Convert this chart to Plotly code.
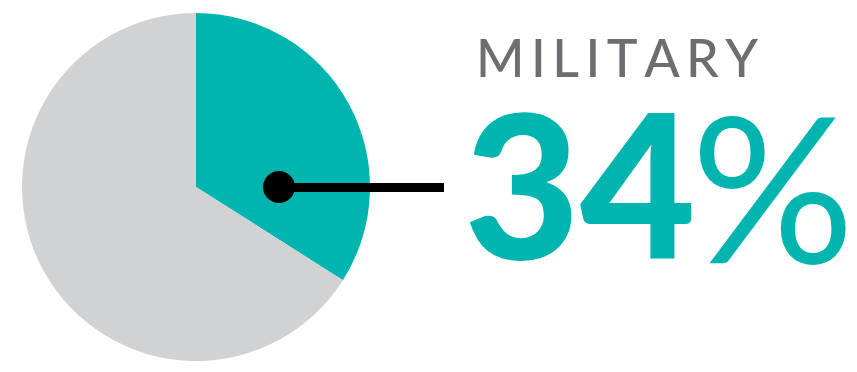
import plotly.graph_objects as go

W, H = 857, 372

labels = ["Military", "Other"]
values = [34, 66]
colors = ["#00b5b0", "#d1d2d4"]
title_text = "MILITARY"
pct_number = "34"
pct_sign = "%"

def px(x):
    return x / W

def py(y):
    return 1 - y / H

# pie geometry in pixels
cx, cy, r = 196, 187, 174

fig = go.Figure()
fig.add_trace(go.Pie(
    labels=labels, values=values, sort=False, direction="clockwise",
    rotation=0, textinfo="none", hoverinfo="label+percent",
    marker=dict(colors=colors, line=dict(width=0)),
    domain=dict(x=[px(cx - r), px(cx + r)], y=[py(cy + r), py(cy - r)]),
    showlegend=False,
))

shapes = [
    dict(type="line", xref="paper", yref="paper",
         x0=px(279), x1=px(444), y0=py(187.5), y1=py(187.5),
         line=dict(color="black", width=9)),
    dict(type="circle", xref="paper", yref="paper",
         x0=px(279 - 16), x1=px(279 + 16), y0=py(187 + 16), y1=py(187 - 16),
         fillcolor="black", line=dict(width=0)),
]

spaced = "\u2009".join(title_text)

annotations = [
    dict(text=spaced, xref="paper", yref="paper", x=px(474), y=py(57),
         xanchor="left", yanchor="middle", showarrow=False,
         font=dict(family="Lato", size=52, color="#6d6e71", weight=500)),
    dict(text=pct_number, xref="paper", yref="paper", x=px(462), y=py(181),
         xanchor="left", yanchor="middle", showarrow=False, height=175,
         font=dict(family="Lato", size=200, color="#00b5b0", weight=900)),
    dict(text=pct_sign, xref="paper", yref="paper", x=1.0, y=py(183),
         xanchor="right", yanchor="middle", showarrow=False, height=175,
         font=dict(family="Lato", size=204, color="#00b5b0", weight=400)),
]

fig.update_layout(
    width=W, height=H, margin=dict(l=0, r=0, t=0, b=0),
    paper_bgcolor="white", plot_bgcolor="white",
    shapes=shapes, annotations=annotations,
)

fig.write_html("out.html")
